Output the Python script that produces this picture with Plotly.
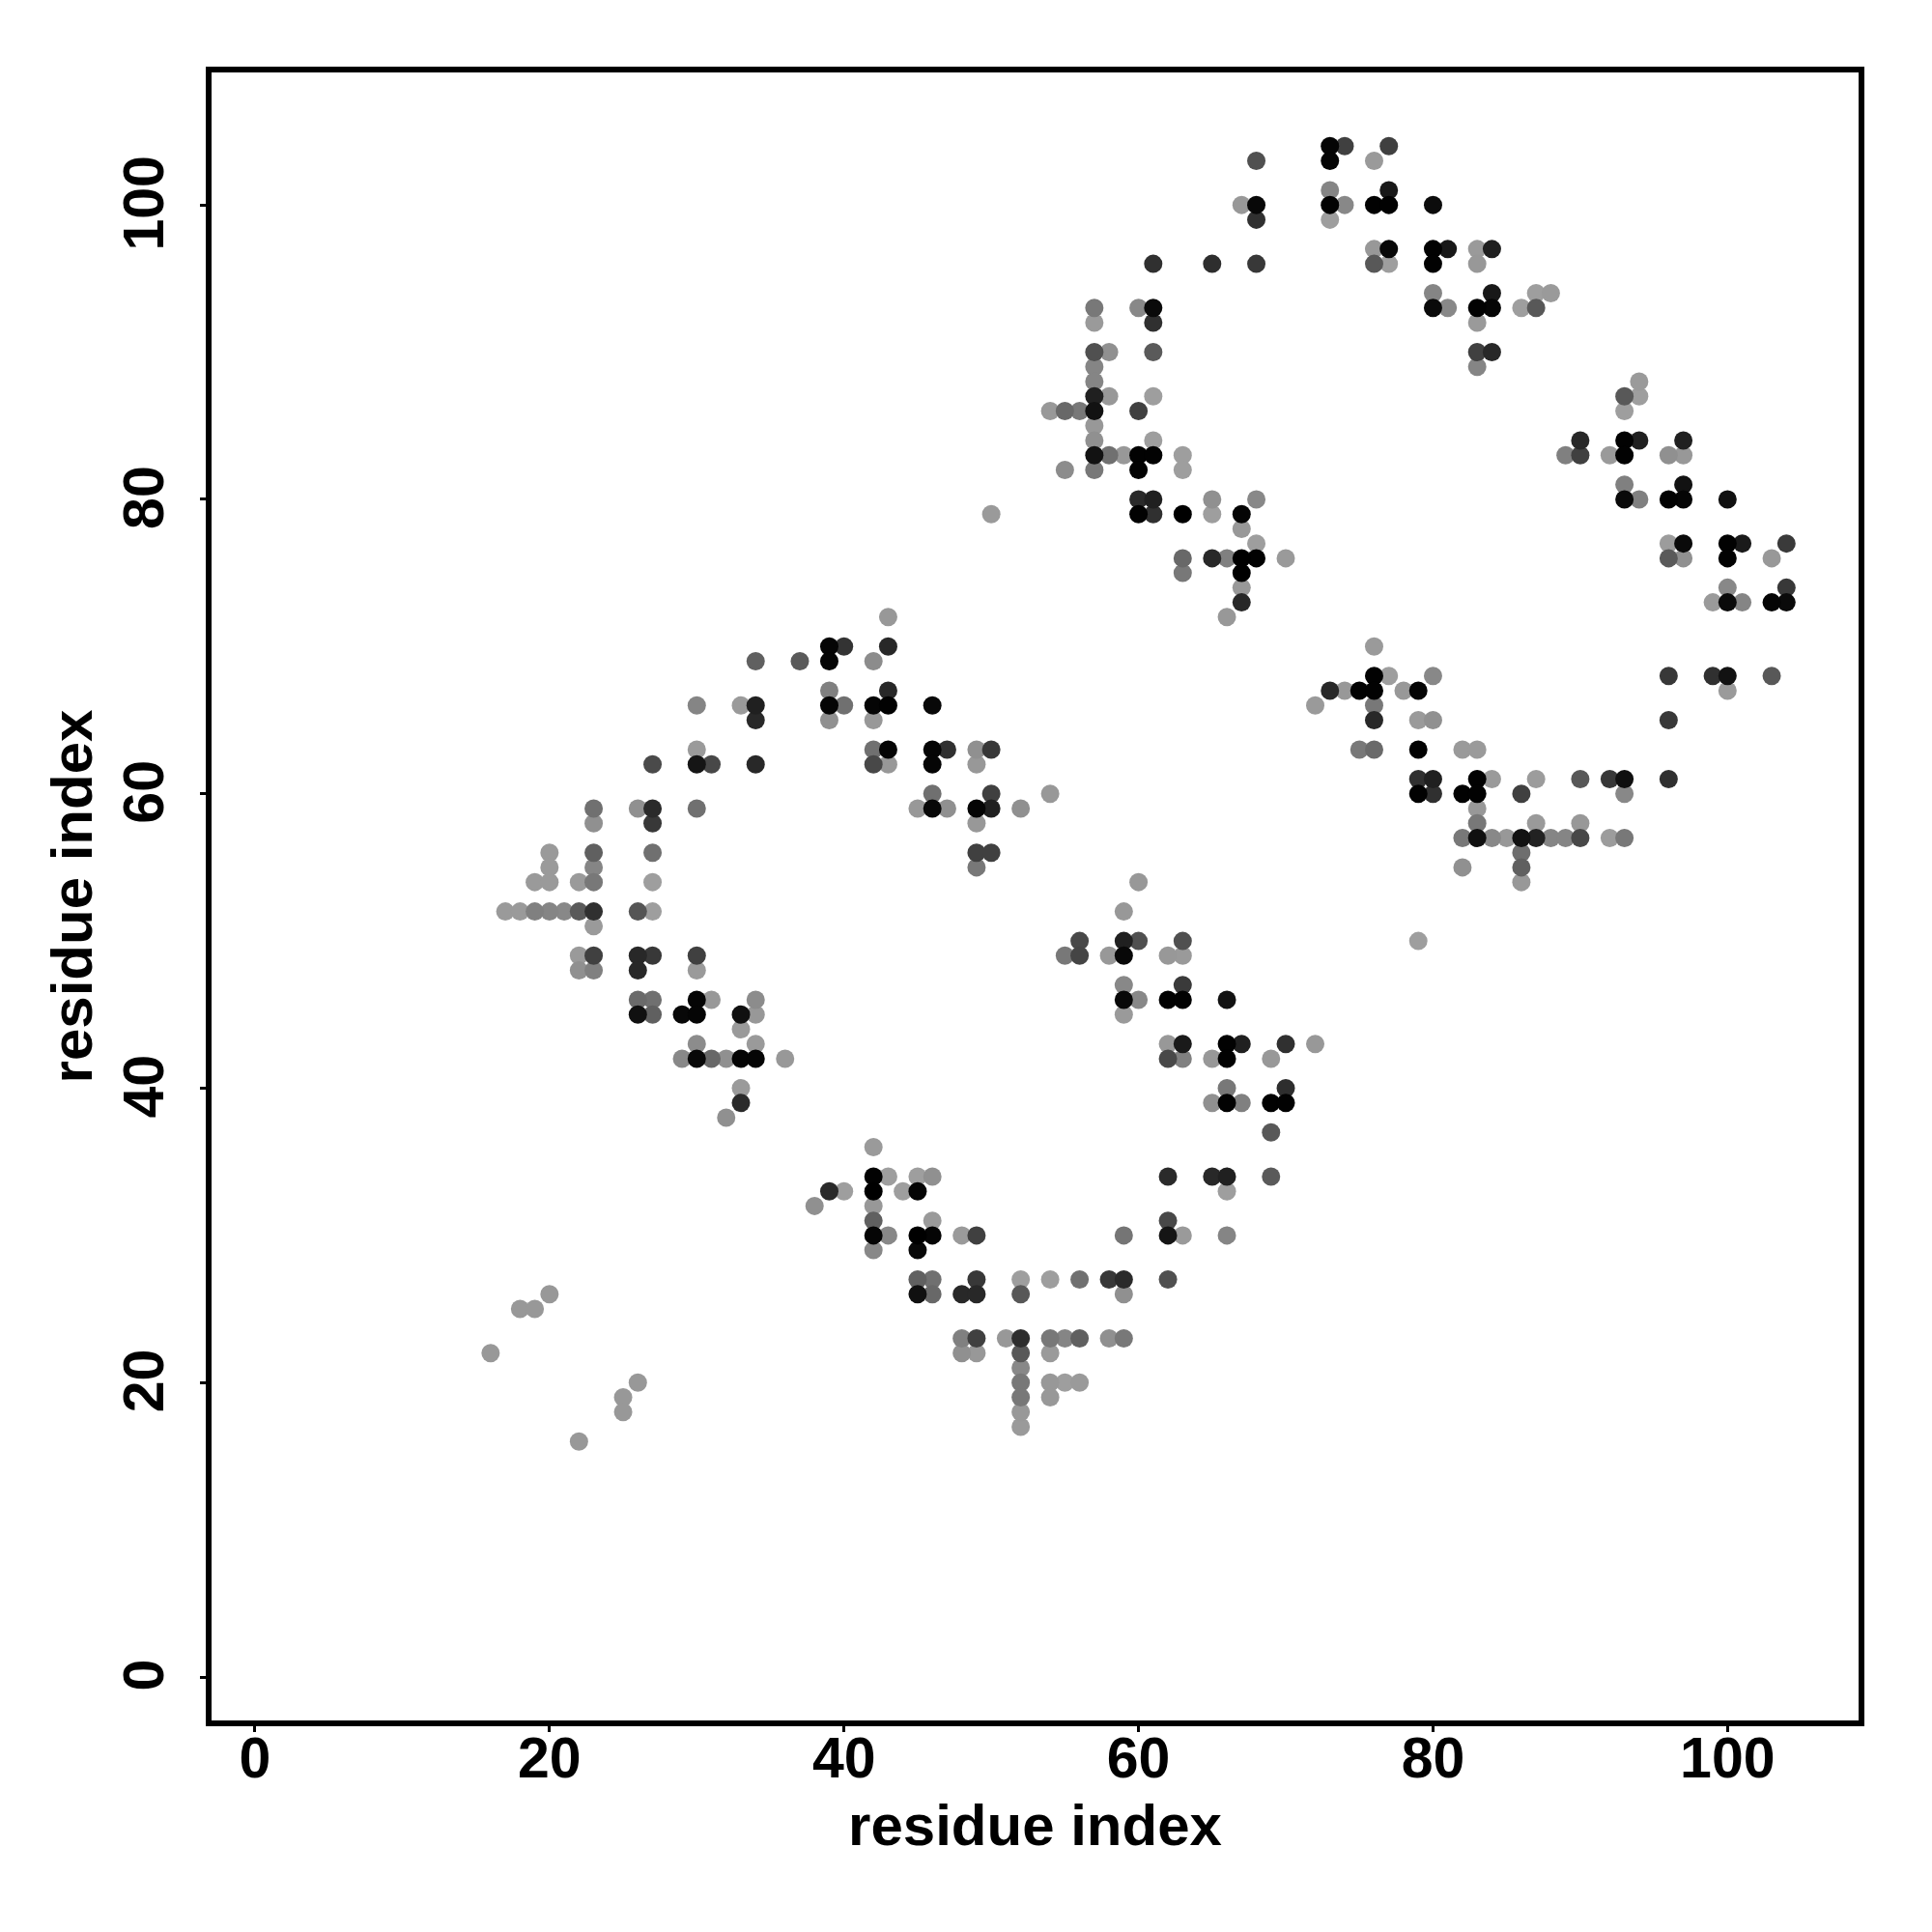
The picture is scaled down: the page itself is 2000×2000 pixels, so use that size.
import plotly.graph_objects as go
import numpy as np

y_rows = [104,103,101,100,99,97,96,94,93,92,90,89,88,87,86,85,84,83,82,81,80,79,78,77,76,75,74,73,72,70,69,68,67,66,65,63,62,61,60,59,58,57,56,55,54,52,51,50,49,48,47,46,45,44,43,42,40,39,38,37,36,34,33,32,31,30,29,27,26,25,23,22,21,20,19,18,17,16]
x_rows = [
[73,74,77],[68,73,76],[73,77],[67,68,73,74,76,77,80],[68,73],[76,77,80,81,83,84],[61,65,68,76,77,80,83],[80,84,87,88],
[57,60,61,80,81,83,84,86,87],[57,61,83],[57,58,61,83,84],[57,83],[57,94],[57,58,61,93,94],[54,55,56,57,60,93],[57],
[57,61,90,93,94,97],[57,58,59,60,61,63,89,90,92,93,96,97],[55,57,60,63],[93,97],[60,61,65,68,93,94,96,97,100],
[50,60,61,63,65,67],[67],[68,96,97,100,101,104],[63,65,66,67,68,70,96,97,100,103],[63,67],[67,100,104],[67,99,100,101,103,104],
[43,66],[39,40,43,76],[34,37,39,42],[76,77,80,96,99,100,103],[39,43,73,74,75,76,78,79,100],[30,33,34,39,40,42,43,46,72,76],
[34,39,42,76,79,80,96],[30,42,43,46,47,49,50,75,76,79,82,83],[27,30,31,34,42,43,46,49],[79,80,83,84,87,90,92,93,96],
[46,50,54,79,80,82,83,86,93],[23,26,27,30,45,46,47,49,50,52,83],[23,27,49,83,87,90],[82,83,84,85,86,87,88,89,90,92,93],
[20,23,27,49,50,86],[20,23,49,82,86],[19,20,22,23,27,60,86],[17,18,19,20,21,22,23,26,27,59],[23],[56,59,60,63,79],
[22,23,26,27,30,55,56,58,59,62,63],[22,23,26,30],[59,63],[26,27,30,31,34,59,60,62,63,66],[26,27,29,30,33,34,59],[33],
[30,34,62,63,66,67,70,72],[29,30,31,32,33,34,36,62,63,65,66,69],[33,66,70],[33,65,66,67,69,70],[32],[69],[42],
[42,43,45,46,62,65,66,69],[39,40,42,44,45,66],[38,42],[42,46,62],[42,43,45,46,48,49,59,62,63,66],[42,45],
[45,46,49,52,54,56,58,59,62],[20,45,46,48,49,52,59],[18,19],[48,49,51,52,54,55,56,58,59],[16,48,49,52,54],[52],
[26,52,54,55,56],[25,52,54],[25,52],[52],[22],
]
grey_rows = [
[0x05,0x40,0x40],[0x50,0x05,0x9a],[0x85,0x18],[0x98,0x08,0x02,0x88,0x02,0x02,0x0c],[0x30,0x9e],[0x98,0x08,0x02,0x18,0x9a,0x20],[0x30,0x2e,0x38,0x58,0x9e,0x02,0x98],[0x85,0x18,0x9e,0x9a],
[0x78,0x88,0x0a,0x0a,0x88,0x02,0x05,0x9e,0x58],[0x9a,0x30,0x9a],[0x50,0x90,0x5a,0x40,0x28],[0x85,0x85],[0x85,0x9a],[0x20,0x98,0x9e,0x58,0x9e],[0x98,0x68,0x78,0x12,0x40,0x9e],[0x98],
[0x90,0x9e,0x28,0x02,0x20,0x20],[0x12,0x70,0x98,0x02,0x02,0x9e,0x80,0x40,0x9a,0x02,0x90,0x98],[0x8c,0x78,0x02,0x9e],[0x80,0x12],[0x2a,0x20,0x90,0x88,0x0a,0x80,0x02,0x05,0x10],
[0x9a,0x02,0x30,0x00,0x9e,0x05],[0x98],[0x9e,0x9c,0x0a,0x02,0x1a,0x3a],[0x68,0x28,0x80,0x00,0x02,0x9a,0x5a,0x90,0x02,0x98],[0x78,0x00],[0x98,0x88,0x38],[0x28,0x9a,0x0a,0x85,0x05,0x0a],
[0x98,0x98],[0x05,0x33,0x28,0x9a],[0x60,0x5a,0x05,0x8c],[0x02,0x9e,0x88,0x38,0x30,0x12,0x58],[0x80,0x28,0x28,0x98,0x02,0x02,0x98,0x05,0x9a],[0x85,0x9a,0x20,0x05,0x70,0x05,0x02,0x08,0x9a,0x78],
[0x28,0x90,0x98,0x28,0x9a,0x90,0x38],[0x9a,0x70,0x05,0x05,0x30,0x90,0x38,0x78,0x6a,0x02,0x9a,0x9a],[0x4a,0x15,0x48,0x28,0x48,0x98,0x05,0x98],[0x30,0x20,0x02,0x9a,0x9c,0x58,0x38,0x10,0x30],
[0x70,0x40,0x98,0x02,0x30,0x02,0x02,0x40,0x88],[0x70,0x90,0x2a,0x70,0x98,0x08,0x90,0x05,0x20,0x90,0x98],[0x90,0x38,0x98,0x78,0x9a,0x98],[0x78,0x10,0x88,0x98,0x12,0x22,0x85,0x85,0x48,0x9c,0x78],
[0x9a,0x60,0x70,0x40,0x40,0x6e],[0x9a,0x85,0x78,0x90,0x60],[0x9a,0x9a,0x9a,0x78,0x9e,0x98,0x98],[0x9a,0x9a,0x80,0x85,0x88,0x5a,0x30,0x55,0x9e,0x98],[0x9a],[0x48,0x20,0x50,0x50,0x9e],
[0x9a,0x40,0x28,0x38,0x40,0x78,0x45,0x98,0x08,0x98,0x9a],[0x90,0x80,0x28,0x9a],[0x88,0x3a],[0x6a,0x70,0x05,0x98,0x8c,0x08,0x88,0x02,0x02,0x12],[0x10,0x60,0x08,0x05,0x10,0x98,0x9a],[0x9a],
[0x8c,0x9a,0x98,0x1a,0x02,0x20,0x30,0x98],[0x88,0x08,0x68,0x90,0x05,0x05,0x98,0x48,0x80,0x98,0x02,0x98],[0x9a,0x78,0x2e],[0x2a,0x90,0x02,0x80,0x02,0x02],[0x90],[0x58],[0x9a],
[0x02,0x9e,0x9e,0x90,0x2a,0x28,0x20,0x5a],[0x2a,0x9e,0x00,0x9e,0x05,0x9e],[0x90,0x98],[0x60,0x9a,0x48],[0x05,0x88,0x00,0x05,0x9a,0x40,0x75,0x15,0x9a,0x85],[0x88,0x08],
[0x60,0x70,0x38,0x9e,0x9e,0x70,0x38,0x2a,0x50],[0x98,0x10,0x68,0x28,0x28,0x58,0x90],[0x98,0x98],[0x80,0x40,0x98,0x2e,0x78,0x85,0x60,0x90,0x78],[0x98,0x90,0x98,0x58,0x9a],[0x88],
[0x98,0x78,0x98,0x9e,0x9a],[0x98,0x78,0x98],[0x98,0x98],[0x9a],[0x98],
]
tick_values = [0, 20, 40, 60, 80, 100]
axis_label = "residue index"

x, y, g = [], [], []
for yy, xr, gr in zip(y_rows, x_rows, grey_rows):
    assert len(xr) == len(gr), yy
    x += xr
    y += [yy] * len(xr)
    g += gr
order = np.argsort(-np.array(g), kind="stable")
x = np.array(x)[order]
y = np.array(y)[order]
colors = [f"rgb({v},{v},{v})" for v in np.array(g)[order]]

fig = go.Figure(go.Scatter(
    x=x, y=y, mode="markers",
    marker=dict(size=19, color=colors, line=dict(width=0)),
))
font = dict(family="Liberation Sans", size=59, color="black", weight="bold")
title_font = dict(family="Liberation Sans", size=60, color="black", weight="bold")
axis = dict(
    tickvals=tick_values, ticks="outside", ticklen=6, tickwidth=3, tickcolor="black",
    showline=True, linewidth=5.5, linecolor="black", mirror=True,
    showgrid=False, zeroline=False, tickfont=font, automargin=False,
    title=dict(text=axis_label, font=title_font),
)
fig.update_xaxes(axis, range=[-2.95, 108.9], ticklabelstandoff=-24, title_standoff=18)
fig.update_yaxes(axis, range=[-2.95, 109.0], tickangle=-90, ticklabelstandoff=15, ticklabelshift=7, title_standoff=3)
fig.update_layout(
    width=2000, height=2000, paper_bgcolor="white", plot_bgcolor="white",
    margin=dict(l=219, r=76, t=75, b=219, pad=0), showlegend=False,
)
fig.write_html("out.html", post_script="document.body.style.margin='0';", config={"displayModeBar": False})
